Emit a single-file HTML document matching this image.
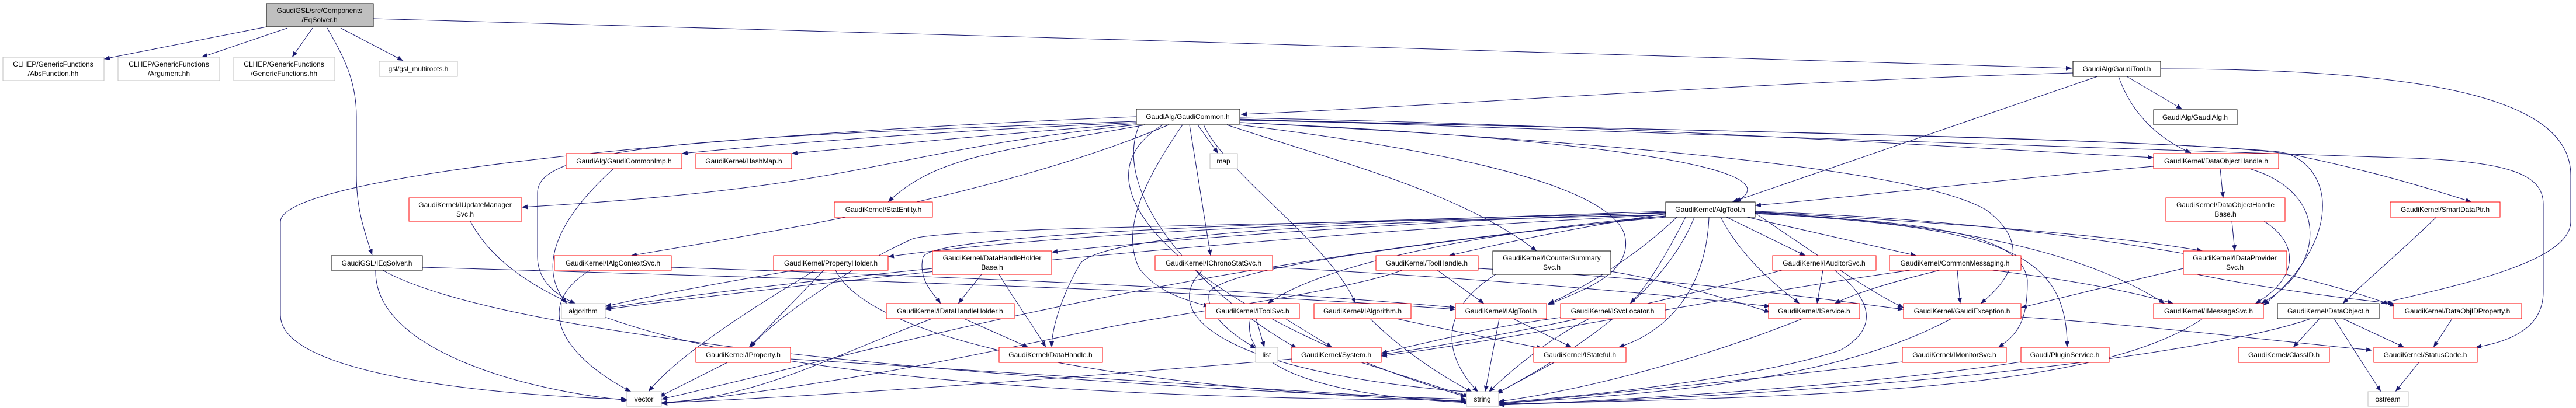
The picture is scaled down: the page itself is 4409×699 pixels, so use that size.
<!DOCTYPE html>
<html><head><meta charset="utf-8"><style>
html,body{margin:0;padding:0;background:#fff;}
svg{display:block;}
text{font-family:"Liberation Sans",sans-serif;font-size:12px;fill:#000;text-anchor:middle;}
.r{fill:#fff;stroke:#ff0000;stroke-width:1;}
.g{fill:#fff;stroke:#bfbfbf;stroke-width:1;}
.b{fill:#fff;stroke:#000;stroke-width:1;}
.e{fill:none;stroke:#191970;stroke-width:1;marker-end:url(#a);}
</style></head><body>
<svg width="4409" height="699" viewBox="0 0 4409 699" xmlns="http://www.w3.org/2000/svg">
<defs><marker id="a" viewBox="0 0 10 8" refX="10" refY="4" markerWidth="10" markerHeight="8" orient="auto" markerUnits="userSpaceOnUse"><path d="M0,0L10,4L0,8z" fill="#191970"/></marker></defs>
<g>
<path class="e" d="M456,46 L178,101"/>
<path class="e" d="M492,48 L345,98"/>
<path class="e" d="M535,48 L500,98"/>
<path class="e" d="M560,48 C590,100 610,140 610,200 L610,300 C610,360 625,400 637,437"/>
<path class="e" d="M583,48 L690,104"/>
<path class="e" d="M639,32 C1500,50 2800,100 3546,117"/>
<path class="e" d="M3548,125 C3000,140 2500,180 2124,196"/>
<path class="e" d="M3590,131 C3300,230 3100,300 2965,346"/>
<path class="e" d="M3640,131 L3735,187"/>
<path class="e" d="M3626,131 C3650,200 3700,240 3750,262"/>
<path class="e" d="M3698,118 C4200,118 4400,180 4400,300 L4400,380 C4400,450 4200,490 4075,520"/>
<path class="e" d="M1944,210 C1600,225 1350,245 1167,263"/>
<path class="e" d="M1944,212 C1700,230 1500,250 1355,263"/>
<path class="e" d="M1944,214 C1500,260 1500,320 893,355"/>
<path class="e" d="M1960,214 C1700,260 1600,270 1520,346"/>
<path class="e" d="M2000,214 C1700,340 1300,400 1080,438"/>
<path class="e" d="M1944,208 C1200,235 920,250 920,330 L920,440 C920,480 950,505 985,520"/>
<path class="e" d="M1944,200 C1200,230 480,300 480,380 L480,540 C480,650 900,680 1073,684"/>
<path class="e" d="M2050,214 L2085,263"/>
<path class="e" d="M2036,214 L2072,438"/>
<path class="e" d="M2024,214 C1950,320 1920,400 1950,460 C1980,500 2030,515 2070,525"/>
<path class="e" d="M2122,210 C2600,230 3100,280 2970,346"/>
<path class="e" d="M2060,214 C2100,300 2280,420 2320,520"/>
<path class="e" d="M2100,214 C2300,280 2500,330 2630,430"/>
<path class="e" d="M2122,214 C2500,260 2750,320 2780,400 C2800,470 2700,500 2650,522"/>
<path class="e" d="M2122,202 C2800,215 3300,250 3686,270"/>
<path class="e" d="M2122,205 C3000,225 3700,240 3900,260 C4050,290 4150,320 4230,346"/>
<path class="e" d="M2122,204 C3000,230 3700,260 4100,270 C4300,275 4353,300 4353,350 L4353,500 C4353,560 4300,585 4237,595"/>
<path class="e" d="M2122,206 C3000,225 3800,240 3920,265 C4000,300 4000,420 3874,523"/>
<path class="e" d="M2122,210 C2900,250 3300,300 3400,360 C3480,420 3440,480 3390,520"/>
<path class="e" d="M1990,214 C1800,330 2100,560 2510,680"/>
<path class="e" d="M1950,214 C1900,330 2050,500 2220,597"/>
<path class="e" d="M2851,366 C2700,390 2600,410 2480,438"/>
<path class="e" d="M2870,372 C2800,440 2700,500 2650,520"/>
<path class="e" d="M2885,372 C2850,440 2820,490 2790,520"/>
<path class="e" d="M2925,372 C2920,500 2850,570 2770,595"/>
<path class="e" d="M2955,372 L3090,438"/>
<path class="e" d="M2990,372 L3280,438"/>
<path class="e" d="M2945,372 C2980,440 3040,490 3080,520"/>
<path class="e" d="M3004,365 C3100,430 3200,500 3258,527"/>
<path class="e" d="M3004,364 C3300,380 3550,420 3705,520"/>
<path class="e" d="M3004,362 C3500,380 3900,450 4100,525"/>
<path class="e" d="M3004,363 C3300,380 3600,400 3770,430"/>
<path class="e" d="M3004,366 C3300,380 3460,400 3470,480 C3470,540 3460,570 3420,595"/>
<path class="e" d="M3004,365 C3400,390 3540,420 3538,595"/>
<path class="e" d="M2851,362 C2300,380 1800,400 1520,440"/>
<path class="e" d="M2851,364 C2400,380 2000,410 1800,432"/>
<path class="e" d="M2851,365 C2200,380 1600,400 1580,440 C1570,480 1600,505 1610,520"/>
<path class="e" d="M2851,368 C2300,380 1900,400 1850,450 C1820,500 1800,560 1800,595"/>
<path class="e" d="M2851,370 C2500,400 2250,460 2170,520"/>
<path class="e" d="M2851,368 C2200,385 1600,390 1560,410 C1450,460 1320,550 1285,595"/>
<path class="e" d="M2851,370 C2400,420 2100,460 2070,500 C2060,540 2120,580 2150,597"/>
<path class="e" d="M2851,372 C2000,450 1500,600 1132,684"/>
<path class="e" d="M2900,372 C2850,500 2700,600 2560,675"/>
<path class="e" d="M2851,368 C2200,400 1500,470 1036,530"/>
<path class="e" d="M643,463 C640,600 900,670 1075,686"/>
<path class="e" d="M655,463 C900,600 2000,670 2510,684"/>
<path class="e" d="M723,458 C1500,480 2100,500 2491,530"/>
<path class="e" d="M805,379 C900,560 1300,680 2510,686"/>
<path class="e" d="M1050,289 C950,380 920,460 970,520"/>
<path class="e" d="M1010,463 C900,530 980,620 1080,671"/>
<path class="e" d="M1149,458 C1800,480 2200,500 2491,527"/>
<path class="e" d="M1360,463 C1200,490 1100,510 1036,525"/>
<path class="e" d="M1410,463 L1282,595"/>
<path class="e" d="M1395,463 C1250,550 1150,620 1110,671"/>
<path class="e" d="M1430,463 C1500,600 2000,670 2510,688"/>
<path class="e" d="M1680,470 L1640,520"/>
<path class="e" d="M1710,470 C1740,520 1770,560 1790,595"/>
<path class="e" d="M1596,460 C1300,490 1150,510 1036,528"/>
<path class="e" d="M1650,546 L1760,595"/>
<path class="e" d="M1595,546 C1400,620 1300,680 1132,690"/>
<path class="e" d="M1245,621 L1128,680"/>
<path class="e" d="M1353,615 C1800,640 2200,670 2510,688"/>
<path class="e" d="M2058,463 C1980,540 2100,640 2520,672"/>
<path class="e" d="M2178,458 C2600,480 2900,510 3030,525"/>
<path class="e" d="M2150,546 L2164,595"/>
<path class="e" d="M2200,546 L2280,595"/>
<path class="e" d="M2140,546 C2120,640 2300,680 2515,690"/>
<path class="e" d="M2211,615 C1800,650 1400,680 1132,690"/>
<path class="e" d="M2330,621 L2515,680"/>
<path class="e" d="M2460,463 L2540,520"/>
<path class="e" d="M2400,463 C2300,500 2000,540 1900,560 C1700,600 1500,650 1132,692"/>
<path class="e" d="M2530,460 C2900,480 3100,510 3258,530"/>
<path class="e" d="M2560,470 C2450,540 2480,620 2530,672"/>
<path class="e" d="M2757,465 C2850,480 2950,510 3030,535"/>
<path class="e" d="M2345,546 C2400,600 2460,640 2520,672"/>
<path class="e" d="M2390,546 C2500,570 2580,585 2640,597"/>
<path class="e" d="M2566,546 L2542,671"/>
<path class="e" d="M2590,546 L2690,595"/>
<path class="e" d="M2720,546 C2650,580 2580,640 2548,672"/>
<path class="e" d="M2671,544 C2550,560 2450,585 2364,605"/>
<path class="e" d="M2660,621 L2562,674"/>
<path class="e" d="M3120,463 L3110,520"/>
<path class="e" d="M3140,463 C3200,510 3220,560 3150,600 C3000,650 2700,680 2565,690"/>
<path class="e" d="M3050,463 C2800,530 2500,590 2364,607"/>
<path class="e" d="M3320,463 C3250,480 3180,500 3140,520"/>
<path class="e" d="M3350,463 L3355,520"/>
<path class="e" d="M3410,463 C3550,480 3650,500 3720,520"/>
<path class="e" d="M3270,463 C3000,500 2600,580 2364,610"/>
<path class="e" d="M3085,546 C2900,620 2700,670 2565,688"/>
<path class="e" d="M3340,546 C3200,620 3000,670 2565,690"/>
<path class="e" d="M3459,543 C3700,560 3900,585 4060,600"/>
<path class="e" d="M3770,546 C3600,660 3200,680 2565,692"/>
<path class="e" d="M3256,620 C3000,650 2700,680 2565,692"/>
<path class="e" d="M3459,620 C3200,660 2800,685 2565,694"/>
<path class="e" d="M3686,285 C3400,310 3200,335 3004,352"/>
<path class="e" d="M3800,289 L3805,339"/>
<path class="e" d="M3850,289 C3990,330 3980,460 3870,520"/>
<path class="e" d="M3820,379 L3825,430"/>
<path class="e" d="M3875,379 C3940,420 3930,480 3860,520"/>
<path class="e" d="M3737,465 C3850,490 4000,510 4097,520"/>
<path class="e" d="M3737,460 C3650,480 3550,505 3459,527"/>
<path class="e" d="M4170,372 C4100,440 4050,480 4010,520"/>
<path class="e" d="M3970,546 L3925,595"/>
<path class="e" d="M4010,546 L4115,595"/>
<path class="e" d="M3995,546 L4075,671"/>
<path class="e" d="M3955,546 C3800,600 3300,670 2565,694"/>
<path class="e" d="M4197,546 L4165,595"/>
<path class="e" d="M4140,621 L4100,671"/>
</g>
<g>
<rect x="456" y="6" width="183" height="40" fill="#bfbfbf" stroke="#000"/>
<text x="547" y="22">GaudiGSL/src/Components</text><text x="547" y="38">/EqSolver.h</text>
<rect class="g" x="5" y="98" width="173" height="40"/><text x="91" y="114">CLHEP/GenericFunctions</text><text x="91" y="130">/AbsFunction.hh</text>
<rect class="g" x="202" y="98" width="174" height="40"/><text x="289" y="114">CLHEP/GenericFunctions</text><text x="289" y="130">/Argument.hh</text>
<rect class="g" x="400" y="98" width="173" height="40"/><text x="486" y="114">CLHEP/GenericFunctions</text><text x="486" y="130">/GenericFunctions.hh</text>
<rect class="g" x="649" y="105" width="134" height="26"/><text x="716" y="122">gsl/gsl_multiroots.h</text>
<rect class="r" x="700" y="339" width="193" height="40"/><text x="796" y="355">GaudiKernel/IUpdateManager</text><text x="796" y="371">Svc.h</text>
<rect class="b" x="567" y="438" width="156" height="25"/><text x="645" y="455">GaudiGSL/IEqSolver.h</text>
<rect class="r" x="969" y="263" width="198" height="26"/><text x="1068" y="280">GaudiAlg/GaudiCommonImp.h</text>
<rect class="r" x="1191" y="263" width="164" height="26"/><text x="1273" y="280">GaudiKernel/HashMap.h</text>
<rect class="r" x="949" y="438" width="200" height="25"/><text x="1049" y="455">GaudiKernel/IAlgContextSvc.h</text>
<rect class="g" x="961" y="520" width="75" height="26"/><text x="998" y="537">algorithm</text>
<rect class="r" x="1191" y="595" width="162" height="26"/><text x="1272" y="612">GaudiKernel/IProperty.h</text>
<rect class="g" x="1073" y="671" width="59" height="25"/><text x="1102" y="688">vector</text>
<rect class="r" x="1428" y="346" width="168" height="26"/><text x="1512" y="363">GaudiKernel/StatEntity.h</text>
<rect class="r" x="1324" y="438" width="196" height="25"/><text x="1422" y="455">GaudiKernel/PropertyHolder.h</text>
<rect class="b" x="1945" y="187" width="177" height="26"/><text x="2033" y="204">GaudiAlg/GaudiCommon.h</text>
<rect class="g" x="2071" y="263" width="47" height="26"/><text x="2094" y="280">map</text>
<rect class="r" x="1596" y="430" width="204" height="40"/><text x="1698" y="446">GaudiKernel/DataHandleHolder</text><text x="1698" y="462">Base.h</text>
<rect class="r" x="1977" y="438" width="201" height="25"/><text x="2077" y="455">GaudiKernel/IChronoStatSvc.h</text>
<rect class="r" x="1517" y="520" width="219" height="26"/><text x="1626" y="537">GaudiKernel/IDataHandleHolder.h</text>
<rect class="r" x="2064" y="520" width="160" height="26"/><text x="2144" y="537">GaudiKernel/IToolSvc.h</text>
<rect class="r" x="1710" y="595" width="177" height="26"/><text x="1798" y="612">GaudiKernel/DataHandle.h</text>
<rect class="g" x="2149" y="595" width="38" height="26"/><text x="2168" y="612">list</text>
<rect class="r" x="2211" y="595" width="153" height="26"/><text x="2287" y="612">GaudiKernel/System.h</text>
<rect class="b" x="2851" y="346" width="153" height="26"/><text x="2927" y="363">GaudiKernel/AlgTool.h</text>
<rect class="r" x="2355" y="438" width="175" height="25"/><text x="2442" y="455">GaudiKernel/ToolHandle.h</text>
<rect class="b" x="2555" y="430" width="202" height="40"/><text x="2656" y="446">GaudiKernel/ICounterSummary</text><text x="2656" y="462">Svc.h</text>
<rect class="r" x="2249" y="520" width="166" height="26"/><text x="2332" y="537">GaudiKernel/IAlgorithm.h</text>
<rect class="r" x="2491" y="520" width="156" height="26"/><text x="2569" y="537">GaudiKernel/IAlgTool.h</text>
<rect class="r" x="2671" y="520" width="179" height="26"/><text x="2760" y="537">GaudiKernel/ISvcLocator.h</text>
<rect class="r" x="2625" y="595" width="158" height="26"/><text x="2704" y="612">GaudiKernel/IStateful.h</text>
<rect class="g" x="2510" y="671" width="55" height="25"/><text x="2537" y="688">string</text>
<rect class="b" x="3548" y="105" width="150" height="26"/><text x="3623" y="122">GaudiAlg/GaudiTool.h</text>
<rect class="b" x="3686" y="188" width="143" height="26"/><text x="3757" y="205">GaudiAlg/GaudiAlg.h</text>
<rect class="r" x="3686" y="263" width="214" height="26"/><text x="3793" y="280">GaudiKernel/DataObjectHandle.h</text>
<rect class="r" x="3707" y="339" width="204" height="40"/><text x="3809" y="355">GaudiKernel/DataObjectHandle</text><text x="3809" y="371">Base.h</text>
<rect class="r" x="3034" y="438" width="177" height="25"/><text x="3122" y="455">GaudiKernel/IAuditorSvc.h</text>
<rect class="r" x="3234" y="438" width="225" height="25"/><text x="3346" y="455">GaudiKernel/CommonMessaging.h</text>
<rect class="r" x="3737" y="430" width="177" height="40"/><text x="3825" y="446">GaudiKernel/IDataProvider</text><text x="3825" y="462">Svc.h</text>
<rect class="r" x="3027" y="520" width="156" height="26"/><text x="3105" y="537">GaudiKernel/IService.h</text>
<rect class="r" x="3258" y="520" width="201" height="26"/><text x="3358" y="537">GaudiKernel/GaudiException.h</text>
<rect class="r" x="3686" y="520" width="188" height="26"/><text x="3780" y="537">GaudiKernel/IMessageSvc.h</text>
<rect class="r" x="3256" y="595" width="178" height="26"/><text x="3345" y="612">GaudiKernel/IMonitorSvc.h</text>
<rect class="r" x="3459" y="595" width="151" height="26"/><text x="3534" y="612">Gaudi/PluginService.h</text>
<rect class="r" x="4091" y="346" width="188" height="26"/><text x="4185" y="363">GaudiKernel/SmartDataPtr.h</text>
<rect class="b" x="3898" y="520" width="174" height="26"/><text x="3985" y="537">GaudiKernel/DataObject.h</text>
<rect class="r" x="4097" y="520" width="219" height="26"/><text x="4206" y="537">GaudiKernel/DataObjIDProperty.h</text>
<rect class="r" x="3831" y="595" width="156" height="26"/><text x="3909" y="612">GaudiKernel/ClassID.h</text>
<rect class="r" x="4063" y="595" width="177" height="26"/><text x="4151" y="612">GaudiKernel/StatusCode.h</text>
<rect class="g" x="4053" y="671" width="69" height="25"/><text x="4087" y="688">ostream</text>
</g>
</svg>
</body></html>
